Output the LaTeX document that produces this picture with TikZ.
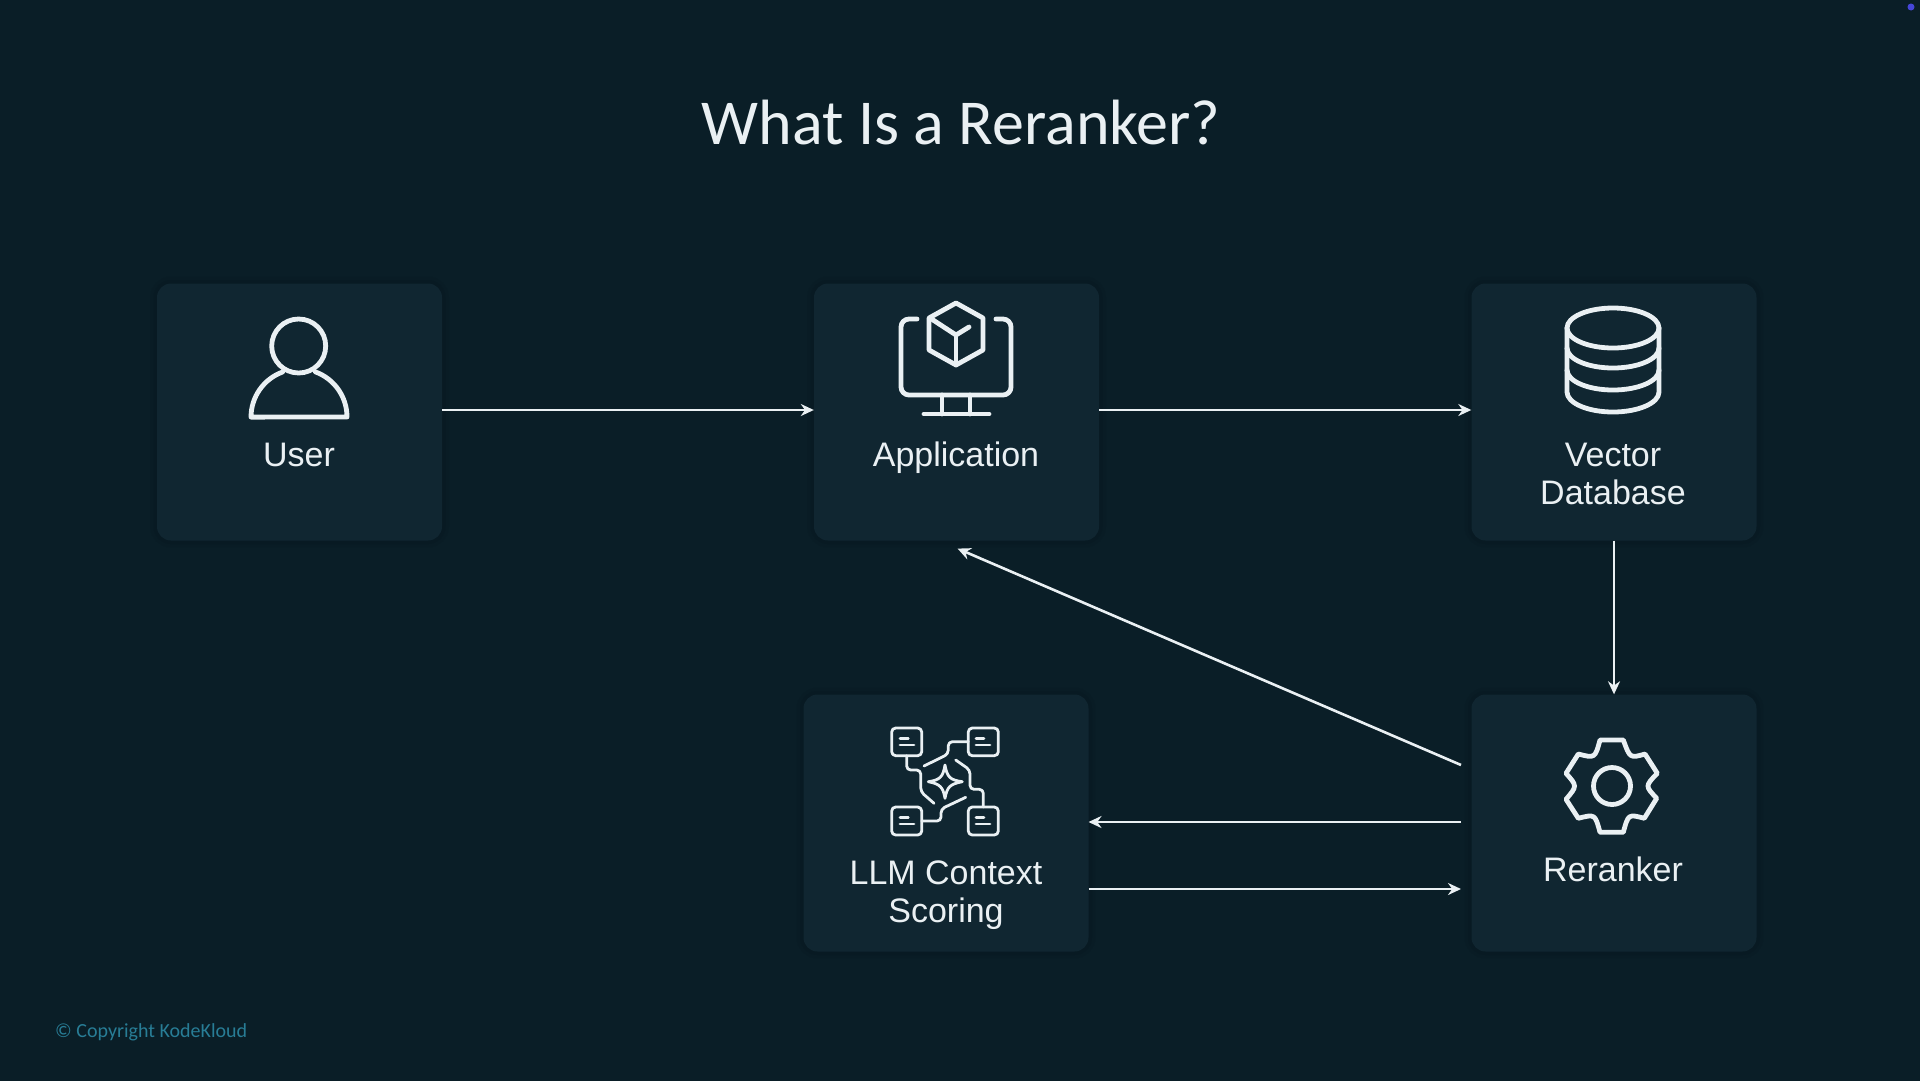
\documentclass[tikz,border=0pt]{standalone}
\usepackage{fontspec}
\setmainfont{Liberation Sans}
\newfontfamily\titlefont{Carlito}
\usetikzlibrary{arrows.meta}
\definecolor{bgcol}{RGB}{10,30,39}
\definecolor{boxcol}{RGB}{16,38,49}
\definecolor{shadowcol}{RGB}{5,20,28}
\definecolor{linecol}{RGB}{234,240,243}
\definecolor{copycol}{RGB}{40,125,150}
\definecolor{dotcol}{RGB}{70,70,215}
\tikzset{
  box/.style={fill=boxcol, rounded corners=14pt, minimum width=285pt, minimum height=257pt, inner sep=0pt,
    preaction={draw=shadowcol, line width=14pt, draw opacity=0.12},
    preaction={draw=shadowcol, line width=7pt, draw opacity=0.2}},
  boxtext/.style={text=linecol, font=\fontsize{34}{38}\selectfont, align=center, inner sep=0pt},
  icon/.style={draw=linecol, line width=4.8pt, line join=round, line cap=round},
  thinicon/.style={draw=linecol, line width=2.8pt, line join=round, line cap=round},
  arrow/.style={draw=linecol, line width=2.6pt, -{Stealth[length=13pt,width=12pt]}}
}
\begin{document}
\begin{tikzpicture}[x=1pt, y=1pt]
\useasboundingbox (0,0) rectangle (1920,-1080);
\fill[bgcol] (-5,5) rectangle (1925,-1085);
\fill[dotcol] (1911,-7) circle (3.5);
\node[text=linecol, font=\titlefont\fontsize{64}{70}\selectfont, inner sep=0pt] (title) at (961,-122.5) {What Is a Reranker?};
\node[box] (user) at (299.5,-412) {};
\node[box] (app) at (956.5,-412) {};
\node[box] (vdb) at (1614,-412) {};
\node[box] (llm) at (946,-823) {};
\node[box] (rerank) at (1614,-823) {};
\node[boxtext, anchor=base] (usertext) at (299,-466) {User};
\node[boxtext, anchor=base] (apptext) at (956,-466) {Application};
\node[boxtext] (vdbtext) at (1613,-474) {Vector\\Database};
\node[boxtext] (llmtext) at (946,-895.5) {LLM Context\\Scoring};
\node[boxtext, anchor=base] (reranktext) at (1613,-881) {Reranker};
\node[text=copycol, font=\titlefont\fontsize{20}{24}\selectfont, inner sep=0pt, anchor=west] (copy) at (55,-1032) {© Copyright KodeKloud};
% user icon
\draw[icon] (298.7,-346) circle (27);
\draw[icon] (282.6,-372) arc (110:180:48) -- (347,-417) arc (0:70:48);
% application icon
\draw[icon, rounded corners=8pt] (917,-319) -- (901,-319) -- (901,-395) -- (1011,-395) -- (1011,-319) -- (996,-319);
\draw[icon] (942,-395) -- (942,-414);
\draw[icon] (970,-395) -- (970,-414);
\draw[icon] (924,-414) -- (989,-414);
\draw[icon] (956,-303) -- (983,-318) -- (983,-350) -- (956,-365) -- (929,-350) -- (929,-318) -- cycle;
\draw[icon] (930,-318) -- (956,-335) -- (969,-327);
\draw[icon] (956,-335) -- (956,-365);
% database icon
\draw[icon] (1613,-328) ellipse (46 and 20);
\draw[icon] (1567,-328) -- (1567,-392) arc (180:360:46 and 20) -- (1659,-328);
\draw[icon] (1567,-348) arc (180:360:46 and 20);
\draw[icon] (1567,-370) arc (180:360:46 and 20);
% gear icon
\draw[icon] (1600,-740) -- (1623.3,-740) .. controls (1630,-758.3) .. (1645,-754) -- (1657.3,-773.3)
  .. controls (1645,-786) .. (1656.7,-798.3) -- (1644.3,-818.3) .. controls (1628.3,-814) .. (1623.3,-832.3)
  -- (1600,-832.3) .. controls (1595,-814) .. (1578.3,-818.3) -- (1566,-799.3)
  .. controls (1577.3,-786) .. (1566,-773.3) -- (1578.3,-754) .. controls (1595,-758.3) .. (1600,-740) -- cycle;
\draw[icon] (1612,-786) circle (18.5);
% scoring icon
\draw[thinicon, rounded corners=4pt] (891.7,-728) rectangle (921.7,-755.7);
\draw[thinicon, rounded corners=4pt] (968.3,-728) rectangle (998.3,-755.7);
\draw[thinicon, rounded corners=4pt] (891.7,-807) rectangle (921.7,-835);
\draw[thinicon, rounded corners=4pt] (968.3,-807) rectangle (998.3,-835);
\draw[thinicon] (900,-738.3) -- (908.3,-738.3);
\draw[thinicon] (900,-745) -- (914,-745);
\draw[thinicon] (976,-738.3) -- (984,-738.3);
\draw[thinicon] (976,-745) -- (990,-745);
\draw[thinicon] (900,-817.3) -- (908.3,-817.3);
\draw[thinicon] (900,-824) -- (914,-824);
\draw[thinicon] (976,-817.3) -- (984,-817.3);
\draw[thinicon] (976,-824) -- (990,-824);
\draw[thinicon] (945,-765) .. controls (947,-777) and (950,-780) .. (962.3,-781.7)
  .. controls (950,-784) and (947,-787) .. (945,-798.3)
  .. controls (943,-787) and (940,-784) .. (928.3,-781.7)
  .. controls (940,-780) and (943,-777) .. (945,-765) -- cycle;
\draw[thinicon, rounded corners=4pt] (906.7,-755.7) -- (906.7,-770) -- (920.7,-770) -- (920.7,-791.7) -- (934,-803.3);
\draw[thinicon, rounded corners=4pt] (968.3,-741.7) -- (948.3,-741.7) -- (948.3,-754) -- (924,-766);
\draw[thinicon, rounded corners=4pt] (983.3,-807) -- (983.3,-789.3) -- (970,-789.3) -- (970,-770) -- (955.7,-760);
\draw[thinicon, rounded corners=4pt] (921.7,-821) -- (941,-821) -- (941,-809) -- (965.7,-797.3);
% connectors
\coordinate (rerankback) at (1461,-765);
\coordinate (appback) at (957.6,-548.6);
\coordinate (rerankin) at (1461,-889);
\coordinate (rerankout) at (1461,-822);
\coordinate (llmout) at (1088.5,-889);
\coordinate (llmin) at (1088.5,-822);
\draw[arrow] ([yshift=2pt]user.east) -- ([yshift=2pt]app.west);
\draw[arrow] ([yshift=2pt]app.east) -- ([yshift=2pt]vdb.west);
\draw[arrow] (vdb.south) -- (rerank.north);
\draw[arrow] (rerankback) -- (appback);
\draw[arrow] (rerankout) -- (llmin);
\draw[arrow] (llmout) -- (rerankin);
\end{tikzpicture}
\end{document}
